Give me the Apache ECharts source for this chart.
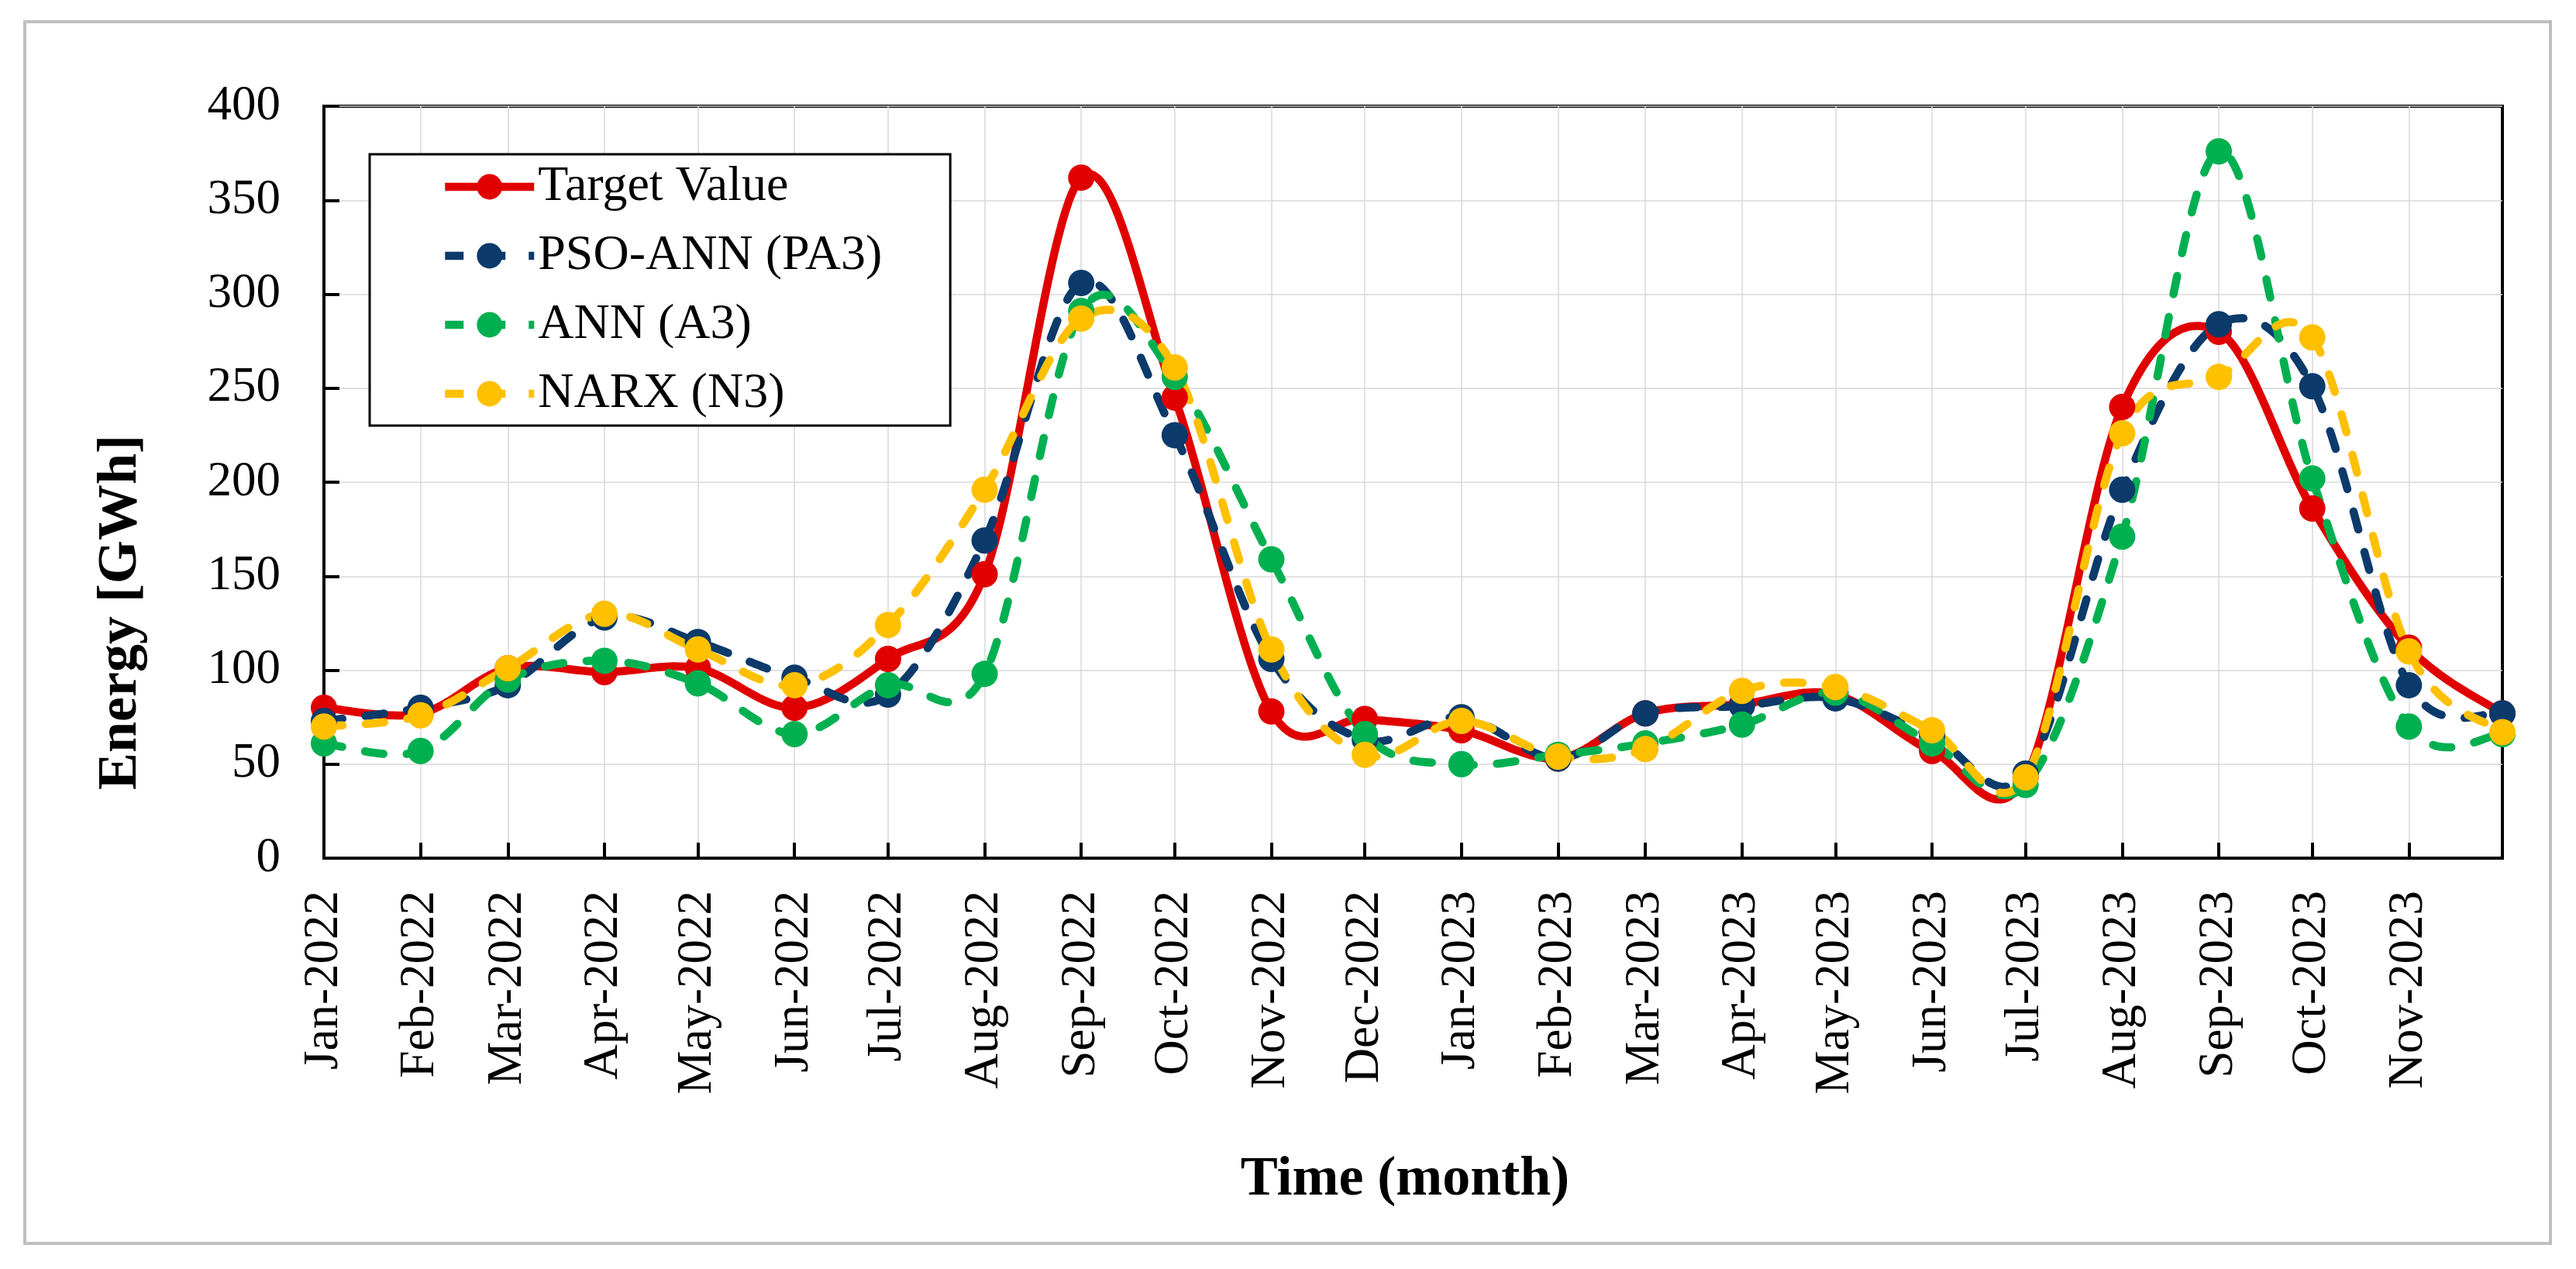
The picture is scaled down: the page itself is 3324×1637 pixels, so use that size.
<!DOCTYPE html>
<html>
<head>
<meta charset="utf-8">
<script src="https://cdn.jsdelivr.net/npm/echarts@6/dist/echarts.min.js"></script>
<style>
  html, body { margin: 0; padding: 0; background: #fff; }
  #chart { width: 3324px; height: 1637px; }
</style>
</head>
<body>
<div id="chart"></div>
<script>
// ---- Data ----
const months = [
  '2022-01','2022-02','2022-03','2022-04','2022-05','2022-06',
  '2022-07','2022-08','2022-09','2022-10','2022-11','2022-12',
  '2023-01','2023-02','2023-03','2023-04','2023-05','2023-06',
  '2023-07','2023-08','2023-09','2023-10','2023-11','2023-12'
];
const monthLabels = [
  'Jan-2022','Feb-2022','Mar-2022','Apr-2022','May-2022','Jun-2022',
  'Jul-2022','Aug-2022','Sep-2022','Oct-2022','Nov-2022','Dec-2022',
  'Jan-2023','Feb-2023','Mar-2023','Apr-2023','May-2023','Jun-2023',
  'Jul-2023','Aug-2023','Sep-2023','Oct-2023','Nov-2023'
];
const yTicks = [0, 50, 100, 150, 200, 250, 300, 350, 400];

const targetValue = [80, 77, 101, 99, 101, 80, 106, 151, 362, 245, 78, 74,
                     68, 53, 77, 82, 87, 57, 43, 240, 280, 186, 112, 77];
const psoAnn      = [73, 80, 92, 128, 115, 96, 87, 169, 306, 225, 106, 63,
                     75, 53, 77, 81, 85, 65, 45, 196, 284, 251, 92, 77];
const ann         = [61, 57, 95, 105, 93, 66, 92, 98, 291, 256, 159, 66,
                     50, 55, 61, 71, 88, 61, 39, 171, 376, 202, 70, 66];
const narx        = [70, 76, 101, 130, 111, 92, 124, 196, 287, 261, 111, 55,
                     73, 54, 58, 89, 91, 68, 43, 226, 256, 277, 110, 67];

const seriesNames = ['Target Value', 'PSO-ANN (PA3)', 'ANN (A3)', 'NARX (N3)'];
const seriesColors = ['#E00000', '#0B3A6B', '#00B050', '#FFC000'];

// ---- Build: x positions are day numbers counted from 1 Jan 2022 (date axis) ----
const DAY = 86400000;
const base = Date.UTC(2022, 0, 1);
const toDay = s => { const p = s.split('-').map(Number); return Math.round((Date.UTC(p[0], p[1] - 1, 1) - base) / DAY); };
const days = months.map(toDay);
const labelDays = days.slice(0, monthLabels.length);
const pair = vals => vals.map((v, i) => [days[i], v]);

const FONT = '"Liberation Serif", "Times New Roman", serif';
const DASH = [24, 30];
const LINE_W = 10.5;
const MARK = 34;

// Spreadsheet-style smoothing (Catmull-Rom as cubic Bezier) in pixel space
function smoothPoints(pts, steps) {
  const out = [];
  const n = pts.length;
  for (let i = 0; i < n - 1; i++) {
    const p0 = pts[Math.max(i - 1, 0)], p1 = pts[i], p2 = pts[i + 1], p3 = pts[Math.min(i + 2, n - 1)];
    const c1 = [p1[0] + (p2[0] - p0[0]) / 6, p1[1] + (p2[1] - p0[1]) / 6];
    const c2 = [p2[0] - (p3[0] - p1[0]) / 6, p2[1] - (p3[1] - p1[1]) / 6];
    for (let s = (i === 0 ? 0 : 1); s <= steps; s++) {
      const t = s / steps, u = 1 - t;
      const a = u * u * u, b = 3 * u * u * t, c = 3 * u * t * t, d = t * t * t;
      out.push([a * p1[0] + b * c1[0] + c * c2[0] + d * p2[0],
                a * p1[1] + b * c1[1] + c * c2[1] + d * p2[1]]);
    }
  }
  return out;
}

function curveSeries(idx, vals, dash) {
  return {
    name: seriesNames[idx] + ' curve',
    type: 'custom',
    coordinateSystem: 'cartesian2d',
    data: [[days[0], vals[0]]],
    silent: true,
    animation: false,
    renderItem: function (params, api) {
      const pts = vals.map((v, i) => api.coord([days[i], v]));
      return {
        type: 'polyline',
        shape: { points: smoothPoints(pts, 30) },
        style: {
          stroke: seriesColors[idx], lineWidth: LINE_W, fill: 'none',
          lineDash: dash ? DASH : null, lineCap: 'round', lineJoin: 'round'
        }
      };
    }
  };
}

function markerSeries(idx, vals, dash) {
  return {
    name: seriesNames[idx],
    type: 'line',
    data: pair(vals),
    smooth: false,
    symbol: 'circle',
    symbolSize: MARK,
    showSymbol: true,
    color: seriesColors[idx],
    itemStyle: { color: seriesColors[idx], borderWidth: 0 },
    lineStyle: { color: seriesColors[idx], width: LINE_W, type: dash ? DASH : 'solid', opacity: 0 },
    emphasis: { disabled: true },
    animation: false
  };
}

const chart = echarts.init(document.getElementById('chart'), null, { renderer: 'canvas' });
const option = {
  backgroundColor: '#ffffff',
  animation: false,
  grid: {
    left: 418, top: 137, right: 95, bottom: 530,
    containLabel: false, outerBoundsMode: 'none',
    show: true, borderColor: '#000', borderWidth: 4, backgroundColor: 'transparent'
  },
  legend: {
    data: seriesNames,
    orient: 'vertical',
    left: 477, top: 199,
    padding: [10, 88, 9, 92],
    itemWidth: 115, itemHeight: 41, itemGap: 25,
    borderColor: '#000', borderWidth: 3,
    backgroundColor: '#fff',
    lineStyle: { width: LINE_W, opacity: 1 },
    textStyle: { fontFamily: FONT, fontSize: 64, color: '#000', lineHeight: 64 },
    selectedMode: false
  },
  xAxis: {
    type: 'value',
    min: days[0],
    max: days[days.length - 1],
    axisLine: { show: true, lineStyle: { color: '#000', width: 4 } },
    axisTick: { show: true, inside: true, length: 20, customValues: labelDays, lineStyle: { color: '#000', width: 4 } },
    axisLabel: {
      customValues: labelDays,
      rotate: 90, margin: 42,
      fontFamily: FONT, fontSize: 63, color: '#000',
      formatter: function (v) {
        const i = labelDays.indexOf(Math.round(v));
        return i >= 0 ? monthLabels[i] : '';
      }
    },
    splitLine: { show: true, lineStyle: { color: '#D9D9D9', width: 1.5 } }
  },
  yAxis: {
    type: 'value',
    min: yTicks[0], max: yTicks[yTicks.length - 1], interval: 50,
    axisLine: { show: true, lineStyle: { color: '#000', width: 4 } },
    axisTick: { show: true, inside: true, length: 20, lineStyle: { color: '#000', width: 4 } },
    axisLabel: { margin: 56, fontFamily: FONT, fontSize: 63, color: '#000' },
    splitLine: { show: true, lineStyle: { color: '#D9D9D9', width: 1.5 } }
  },
  graphic: [
    {
      type: 'rect', z: -10, silent: true,
      shape: { x: 32, y: 28, width: 3259, height: 1576 },
      style: { fill: 'none', stroke: '#BFBFBF', lineWidth: 4 }
    },
    {
      type: 'text', silent: true,
      x: 156, y: 790, rotation: Math.PI / 2,
      style: { text: 'Energy [GWh]', fontFamily: FONT, fontWeight: 'bold', fontSize: 72, fill: '#000', align: 'center', verticalAlign: 'middle' }
    },
    {
      type: 'text', silent: true,
      x: 1813, y: 1522,
      style: { text: 'Time (month)', fontFamily: FONT, fontWeight: 'bold', fontSize: 72, fill: '#000', align: 'center', verticalAlign: 'middle' }
    }
  ],
  series: [
    curveSeries(0, targetValue, false),
    markerSeries(0, targetValue, false),
    curveSeries(1, psoAnn, true),
    markerSeries(1, psoAnn, true),
    {
      name: 'PSO-ANN centre', type: 'scatter', data: pair(psoAnn),
      symbol: 'circle', symbolSize: 6, itemStyle: { color: '#0000FF' },
      silent: true, emphasis: { disabled: true }, animation: false
    },
    curveSeries(2, ann, true),
    markerSeries(2, ann, true),
    curveSeries(3, narx, true),
    markerSeries(3, narx, true)
  ]
};
chart.setOption(option);
</script>
</body>
</html>
